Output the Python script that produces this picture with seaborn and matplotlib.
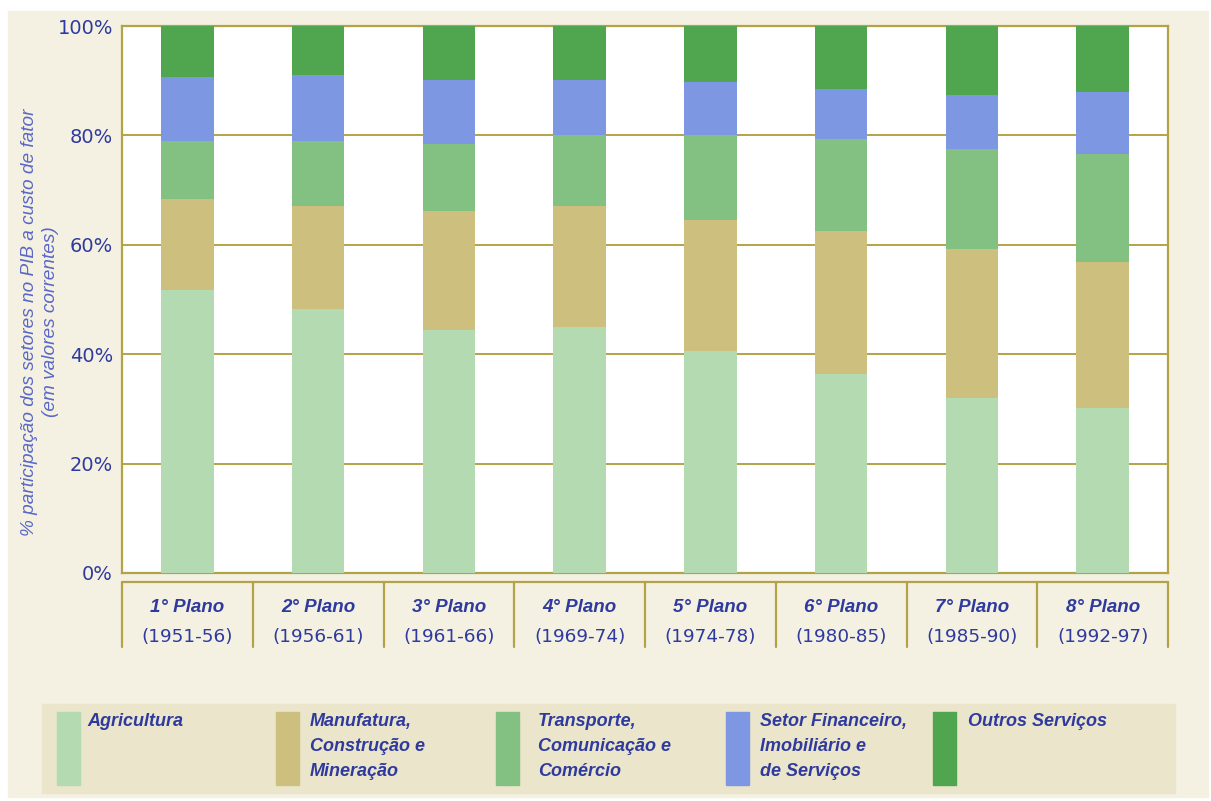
import matplotlib
matplotlib.use("Agg")
import matplotlib.pyplot as plt
from matplotlib.patches import Rectangle
import seaborn as sns
import numpy as np
import pandas as pd

# --- data ---
planos = ["1° Plano", "2° Plano", "3° Plano", "4° Plano",
          "5° Plano", "6° Plano", "7° Plano", "8° Plano"]
periodos = ["(1951-56)", "(1956-61)", "(1961-66)", "(1969-74)",
            "(1974-78)", "(1980-85)", "(1985-90)", "(1992-97)"]

setores = ["Agricultura",
           "Manufatura,\nConstrução e\nMineração",
           "Transporte,\nComunicação e\nComércio",
           "Setor Financeiro,\nImobiliário e\nde Serviços",
           "Outros Serviços"]

agricultura = [51.8, 48.3, 44.5, 44.9, 40.6, 36.3, 32.0, 30.1]
manufatura = [16.5, 18.8, 21.7, 22.2, 23.9, 26.2, 27.3, 26.8]
transporte = [10.7, 11.9, 12.3, 13.0, 15.6, 16.8, 18.2, 19.7]
financeiro = [11.6, 12.0, 11.7, 10.1, 9.6, 9.2, 9.9, 11.4]
outros = [9.4, 9.0, 9.8, 9.8, 10.3, 11.5, 12.6, 12.0]

cores = ["#b3dab1", "#cdbf7d", "#83c183", "#7d97e2", "#4fa64f"]

# colours of the page
OLIVE = "#b4a346"
CREAM = "#f4f1e3"
BAND = "#ebe5cb"
AZUL = "#2e3a9e"
AZUL_CLARO = "#5a68c6"

sns.set_style("white")
plt.rcParams["font.family"] = ["DejaVu Sans"]

W, H = 1211, 801
fig = plt.figure(figsize=(W / 100, H / 100), dpi=100)
fig.patch.set_facecolor("white")
fig.add_artist(Rectangle((8 / W, 1 - 797 / H), 1200 / W, 786 / H,
                         transform=fig.transFigure, color=CREAM, zorder=-10))

ax = fig.add_axes([122 / W, 1 - 573 / H, 1046 / W, 547 / H])
ax.set_facecolor("white")

# cumulative totals, drawn tallest first so each layer covers the one above
partes = np.array([agricultura, manufatura, transporte, financeiro, outros])
acum = np.cumsum(partes, axis=0)
for k in range(len(setores) - 1, -1, -1):
    df = pd.DataFrame({"plano": planos, "valor": acum[k]})
    sns.barplot(data=df, x="plano", y="valor", order=planos, color=cores[k],
                saturation=1, width=0.4, errorbar=None, ax=ax, zorder=3,
                linewidth=0)

ax.set_xlim(-0.5, 7.5)
ax.set_ylim(0, 100)
ax.set_yticks(range(0, 101, 20))
ax.set_yticklabels([f"{v}%" for v in range(0, 101, 20)])
ax.set_xlabel("")
ax.set_ylabel("")
ax.tick_params(axis="x", bottom=False, labelbottom=False)
ax.tick_params(axis="y", left=False, pad=3, labelsize=14, labelcolor=AZUL)
ax.set_axisbelow(True)
ax.yaxis.grid(True, color=OLIVE, lw=1.4)
for s in ax.spines.values():
    s.set_color(OLIVE)
    s.set_linewidth(1.6)

# table of plan labels under the axis
tr = ax.get_xaxis_transform()
y_lin = (573 - 582) / 547
y_fim = (573 - 647) / 547
ax.plot([-0.5, 7.5], [y_lin, y_lin], color=OLIVE, lw=1.6,
        transform=tr, clip_on=False)
for xv in np.arange(-0.5, 8.0, 1.0):
    ax.plot([xv, xv], [y_lin, y_fim], color=OLIVE, lw=1.6,
            transform=tr, clip_on=False)
for i, (p, per) in enumerate(zip(planos, periodos)):
    ax.text(i, (573 - 607) / 547, p, transform=tr, ha="center", va="center",
            fontsize=13.5, fontweight="bold", fontstyle="italic",
            family="Liberation Sans", color=AZUL)
    ax.text(i, (573 - 637) / 547, per, transform=tr, ha="center",
            va="center", fontsize=13.3, color=AZUL)

# y axis title
fig.text(40 / W, 1 - 322 / H,
         "% participação dos setores no PIB a custo de fator\n"
         "(em valores correntes)",
         rotation=90, ha="center", va="center", fontsize=13.7,
         fontstyle="italic", family="Liberation Sans", color=AZUL_CLARO,
         linespacing=1.35)

# legend band
fig.add_artist(Rectangle((42 / W, 1 - 793 / H), (1175 - 42) / W, 89 / H,
                         transform=fig.transFigure, color=BAND, zorder=-5))
patch_x = [57, 276, 496, 726, 933]
text_x = [87, 310, 538, 760, 968]
for k, nome in enumerate(setores):
    fig.add_artist(Rectangle((patch_x[k] / W, 1 - 785 / H), 23 / W, 73 / H,
                             transform=fig.transFigure, color=cores[k]))
    fig.text(text_x[k] / W, 1 - 713 / H, nome, ha="left", va="top",
             fontsize=13, fontweight="bold", fontstyle="italic",
             family="Liberation Sans", color=AZUL, linespacing=1.6)

fig.savefig("out.png", dpi=100, facecolor=fig.get_facecolor())
